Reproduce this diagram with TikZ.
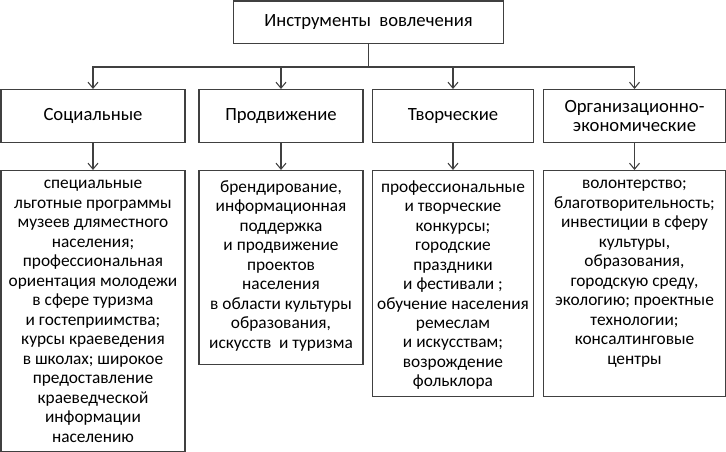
\documentclass[tikz,border=0pt]{standalone}
\usepackage{fontspec}
\setmainfont{Carlito}
\usetikzlibrary{arrows.meta}

% list of tools, set at the top of a fixed box
\newcommand{\toollist}[3]{\parbox[c][#1][t]{#2}{\centering
  \fontsize{13}{14.6}\selectfont\vspace*{7.5pt}#3}}

\begin{document}
\begin{tikzpicture}[x=.75pt, y=-.75pt,
  box/.style = {draw=black!75, line width=.8pt, inner sep=0pt},
  head/.style = {box, minimum height=32pt, font=\fontsize{14}{15}\selectfont},
  kind/.style = {box, minimum height=40pt, align=center,
                 font=\fontsize{14}{14.3}\selectfont},
  link/.style = {draw=black!75, line width=.8pt},
  >={Straight Barb[length=4.5pt, width=7.5pt]}]
\useasboundingbox (0,0) rectangle (726,452);
\node[head, minimum width=203pt, anchor=north] (root) at (368.5,.5) {Инструменты~ вовлечения};
\coordinate (bus) at (368.5,67);
% second row
\node[kind, minimum width=138pt, anchor=north] (soc) at (93,89) {Социальные};
\node[kind, minimum width=123pt, anchor=north] (prod) at (281,89) {Продвижение};
\node[kind, minimum width=121pt, anchor=north] (tvor) at (453,89) {Творческие};
\node[kind, minimum width=136pt, anchor=north] (org) at (634.5,89) {Организационно-\\экономические};
% third row
\node[box, anchor=north] (socl) at (93,170) {\toollist{211pt}{138pt}{%
  специальные\\ льготные программы\\ музеев дляместного\\ населения;\\
  профессиональная\\ ориентация молодежи\\ в сфере туризма\\ и гостеприимства;\\
  курсы краеведения\\ в школах; широкое\\ предоставление\\ краеведческой\\
  информации\\ населению}};
\node[box, anchor=north] (prodl) at (281,170) {\toollist{145.5pt}{123pt}{%
  брендирование,\\ информационная\\ поддержка\\ и продвижение\\ проектов\\
  населения\\ в области культуры\\ образования,\\ искусств~ и туризма}};
\node[box, anchor=north] (tvorl) at (453,170) {\toollist{169.5pt}{121pt}{%
  профессиональные\\ и творческие\\ конкурсы;\\ городские\\ праздники\\
  и фестивали ;\\ обучение населения\\ ремеслам\\ и искусствам;\\
  возрождение\\ фольклора}};
\node[box, anchor=north] (orgl) at (634.5,170) {\toollist{169.5pt}{136pt}{%
  волонтерство;\\ благотворительность;\\ инвестиции в сферу\\ культуры,\\
  образования,\\ городскую среду,\\ экологию; проектные\\ технологии;\\
  консалтинговые\\ центры}};
% connectors
\draw[link] (root) -- (bus);
\foreach \k in {soc, prod, tvor, org} {
  \draw[link, ->] (bus) -| (\k);
  \draw[link, ->] (\k) -- (\k l);
}
\end{tikzpicture}
\end{document}
